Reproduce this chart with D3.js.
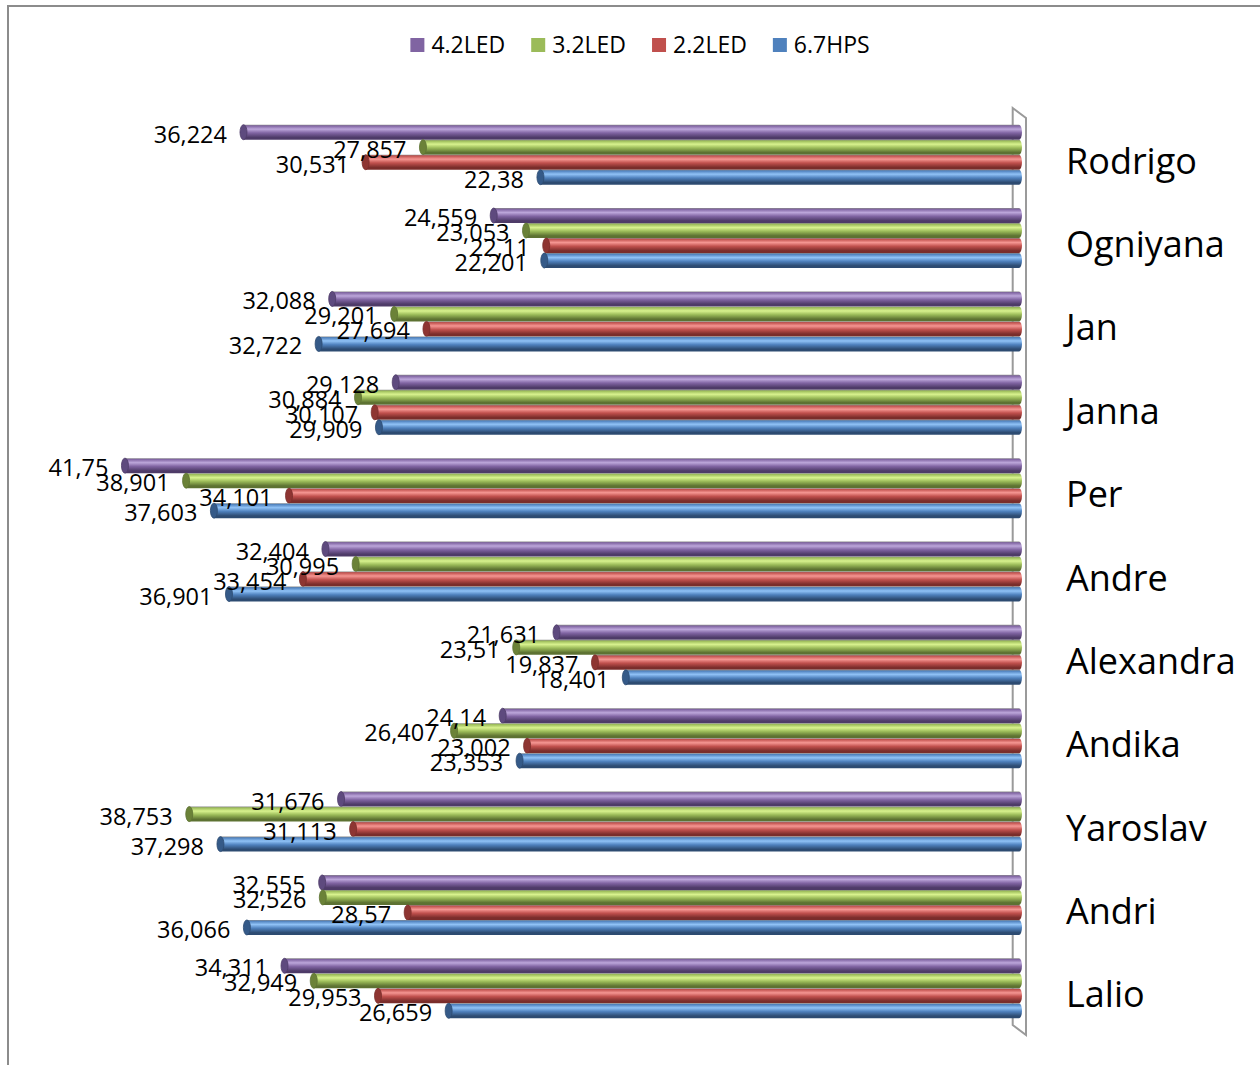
<!DOCTYPE html>
<html>
<head>
<meta charset="utf-8">
<script src="https://cdn.jsdelivr.net/npm/d3@7"></script>
<style>
  html, body { margin: 0; padding: 0; background: #fff; }
  svg { display: block; }
  text { font-family: "Open Sans", "DejaVu Sans", sans-serif; fill: #000; }
</style>
</head>
<body>
<svg id="chart" width="1260" height="1065"></svg>
<script>
// Categories, top to bottom
const categories = ["Rodrigo", "Ogniyana", "Jan", "Janna", "Per", "Andre",
  "Alexandra", "Andika", "Yaroslav", "Andri", "Lalio"];

// Series names (legend order, also bar order inside each group)
const seriesNames = ["4.2LED", "3.2LED", "2.2LED", "6.7HPS"];

// Values per series, aligned with categories
const led42 = [36.224, 24.559, 32.088, 29.128, 41.75, 32.404, 21.631, 24.14, 31.676, 32.555, 34.311];
const led32 = [27.857, 23.053, 29.201, 30.884, 38.901, 30.995, 23.51, 26.407, 38.753, 32.526, 32.949];
const led22 = [30.531, 22.11, 27.694, 30.107, 34.101, 33.454, 19.837, 23.002, 31.113, 28.57, 29.953];
const hps67 = [22.38, 22.201, 32.722, 29.909, 37.603, 36.901, 18.401, 23.353, 37.298, 36.066, 26.659];

const seriesValues = [led42, led32, led22, hps67];

// Cylinder shading per series: base, highlight, shadow, end face
const palette = [
  { base: "#8064A2", light: "#BCA6DA", dark: "#4E3B68", face: "#5E4A7E" },
  { base: "#9BBB59", light: "#D8F28E", dark: "#5D7232", face: "#6B8238" },
  { base: "#C0504D", light: "#F59692", dark: "#7A2D2B", face: "#8E3532" },
  { base: "#4F81BD", light: "#90C2F6", dark: "#2D4B71", face: "#355A88" }
];

const svg = d3.select("#chart");
const defs = svg.append("defs");

palette.forEach((c, i) => {
  const g = defs.append("linearGradient")
    .attr("id", "cyl" + i)
    .attr("x1", 0).attr("y1", 0).attr("x2", 0).attr("y2", 1);
  [[0, "#8a8a8a"], [0.08, c.base], [0.3, c.light], [0.55, c.base], [0.85, c.dark], [1, c.dark]]
    .forEach(([o, col]) => g.append("stop").attr("offset", o).attr("stop-color", col));
});

// Outer frame (top and left edges)
svg.append("path")
  .attr("d", "M8,1065 L8,6 L1260,6")
  .attr("fill", "none")
  .attr("stroke", "#8c8c8c")
  .attr("stroke-width", 2);

// Scales
const x = d3.scaleLinear().domain([0, 45]).range([1017, 1017 - 45 * 21.45]);
const y = d3.scaleBand().domain(categories).range([113, 1030]).padding(0);
const barH = 15;
const ys = d3.scaleBand().domain(seriesNames).range([-2 * barH, 2 * barH]).padding(0);

// Back wall of the 3D plot
const x0 = x(0);
const [yTop, yBot] = y.range();
svg.append("path")
  .attr("d", `M${x0 - 4.3},${yTop - 5} L${x0 + 9},${yTop + 5} L${x0 + 9},${yBot + 5} L${x0 - 4.3},${yBot - 5} Z`)
  .attr("fill", "#fff")
  .attr("stroke", "#9a9a9a")
  .attr("stroke-width", 2);

// Flatten data
const bars = [];
categories.forEach((cat, ci) => {
  seriesNames.forEach((s, si) => {
    bars.push({ cat, s, si, v: seriesValues[si][ci] });
  });
});

const capRx = 3.5;
const gBars = svg.append("g");
const barG = gBars.selectAll("g.bar").data(bars).join("g").attr("class", "bar");

// Cylinder body with rounded end at the wall
barG.append("path")
  .attr("d", d => {
    const top = y(d.cat) + y.bandwidth() / 2 + ys(d.s);
    const bot = top + barH;
    const xl = x(d.v) + capRx;
    const xr = x0 + 2;
    return `M${xl},${top} L${xr},${top} A3,${barH / 2} 0 0 1 ${xr},${bot} L${xl},${bot} Z`;
  })
  .attr("fill", d => `url(#cyl${d.si})`);

// End face of the cylinder
barG.append("ellipse")
  .attr("cx", d => x(d.v) + capRx)
  .attr("cy", d => y(d.cat) + y.bandwidth() / 2 + ys(d.s) + barH / 2)
  .attr("rx", capRx)
  .attr("ry", barH / 2)
  .attr("fill", d => palette[d.si].face)
  .attr("stroke", d => palette[d.si].dark)
  .attr("stroke-width", 0.8);

// Value labels with comma decimals
svg.append("g").selectAll("text").data(bars).join("text")
  .attr("x", d => x(d.v) - 13)
  .attr("y", d => y(d.cat) + y.bandwidth() / 2 + ys(d.s) + barH / 2 + 10.5)
  .attr("text-anchor", "end")
  .attr("font-size", 23.5)
  .text(d => String(d.v).replace(".", ","));

// Category labels on the right
svg.append("g").selectAll("text").data(categories).join("text")
  .attr("x", 1066)
  .attr("y", d => y(d) + y.bandwidth() / 2 + 19)
  .attr("font-size", 36)
  .text(d => d);

// Legend
const legend = svg.append("g");
const items = legend.selectAll("g").data(seriesNames).join("g");
items.append("rect")
  .attr("width", 14).attr("height", 14)
  .attr("y", 38)
  .attr("fill", (d, i) => palette[i].base);
items.append("text")
  .attr("x", 21).attr("y", 52.5)
  .attr("font-size", 23)
  .text(d => d);
let cursor = 0;
const positions = [];
items.each(function () {
  const w = this.querySelector("text").getComputedTextLength();
  positions.push(cursor);
  cursor += 21 + w + 26;
});
const total = cursor - 26;
const startX = 640 - total / 2;
items.attr("transform", (d, i) => `translate(${startX + positions[i]},0)`);
</script>
</body>
</html>
